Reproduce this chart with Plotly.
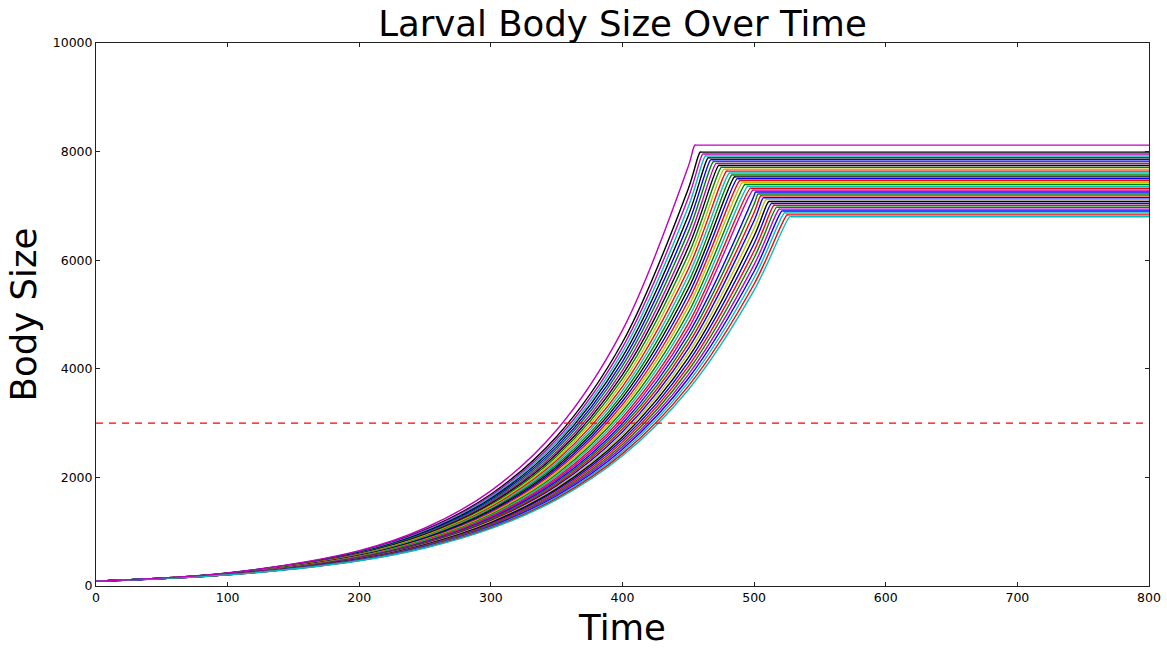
import plotly.graph_objects as go

# ---------------- data ----------------
start_size = 90          # body size of every larva at time 0
end_time = 800           # last time step shown
threshold = 3000         # red dashed reference level

# time at which each larva stops growing, and its final (plateau) body size
peak_times = [455, 459, 461, 463, 465, 467, 469, 471, 473, 475, 477, 479,
              481, 483, 485, 487, 489, 491, 493, 495, 497, 499, 501, 503,
              505, 507, 509, 511, 513, 515, 517, 519, 521, 523, 525, 527]
plateau_sizes = [8120, 7990, 7955, 7920, 7885, 7850, 7815, 7780, 7745, 7710,
                 7675, 7640, 7605, 7570, 7535, 7500, 7465, 7430, 7395, 7360,
                 7325, 7290, 7255, 7220, 7185, 7150, 7115, 7080, 7045, 7010,
                 6975, 6940, 6905, 6870, 6835, 6800]

# body size of each larva at sampled times (None = already on its plateau)
size_at_100 = [242, 239, 238, 237, 236, 234, 233, 232, 231, 230, 229, 228,
               226, 225, 224, 223, 222, 221, 220, 219, 218, 217, 216, 215,
               214, 213, 212, 211, 211, 210, 209, 208, 207, 206, 205, 204]
size_at_200 = [651, 636, 629, 623, 616, 610, 604, 598, 592, 586, 581, 575,
               569, 564, 559, 553, 548, 543, 538, 533, 529, 524, 519, 515,
               510, 506, 501, 497, 493, 488, 484, 480, 476, 472, 468, 465]
size_at_250 = [1068, 1036, 1023, 1010, 997, 984, 972, 960, 948, 937, 925, 914,
               903, 892, 882, 872, 861, 851, 842, 832, 823, 814, 805, 796,
               787, 778, 770, 762, 754, 745, 738, 730, 722, 715, 708, 700]
size_at_300 = [1752, 1689, 1663, 1638, 1612, 1588, 1564, 1541, 1518, 1496,
               1474, 1453, 1432, 1412, 1392, 1372, 1353, 1335, 1316, 1298,
               1281, 1264, 1247, 1230, 1214, 1198, 1183, 1168, 1153, 1138,
               1123, 1109, 1095, 1082, 1069, 1056]
size_at_350 = [2873, 2754, 2704, 2656, 2608, 2562, 2518, 2474, 2432, 2390,
               2350, 2310, 2272, 2234, 2197, 2161, 2126, 2092, 2059, 2026,
               1994, 1963, 1932, 1902, 1873, 1845, 1817, 1790, 1763, 1736,
               1711, 1686, 1661, 1638, 1614, 1591]
size_at_400 = [4712, 4489, 4396, 4307, 4219, 4134, 4053, 3972, 3894, 3818,
               3744, 3673, 3603, 3535, 3468, 3403, 3340, 3279, 3219, 3161,
               3104, 3049, 2994, 2942, 2890, 2840, 2791, 2743, 2696, 2650,
               2606, 2562, 2520, 2478, 2438, 2398]
size_at_450 = [7728, 7318, 7148, 6985, 6825, 6671, 6522, 6377, 6237, 6100,
               5967, 5839, 5714, 5592, 5474, 5359, 5248, 5139, 5034, 4932,
               4831, 4735, 4641, 4548, 4459, 4373, 4287, 4205, 4124, 4045,
               3969, 3894, 3821, 3751, 3682, 3615]
size_at_500 = [None] * 22 + [7192, 7033, 6880, 6732, 6586, 6446, 6308, 6174,
                             6045, 5919, 5796, 5677, 5562, 5449]

sample_times = [100, 200, 250, 300, 350, 400, 450, 500]
sample_sizes = [size_at_100, size_at_200, size_at_250, size_at_300,
                size_at_350, size_at_400, size_at_450, size_at_500]

# matplotlib "classic" colour cycle letters, one per larva
larva_colors = ['m', 'k', 'm', 'c', 'k', 'b', 'g', 'm', 'k', 'g',
                'y', 'r', 'c', 'g', 'k', 'b', 'r', 'y', 'g', 'c',
                'r', 'm', 'b', 'g', 'r', 'b', 'y', 'k', 'b', 'r',
                'g', 'm', 'b', 'c', 'r', 'c']

x_ticks = [0, 100, 200, 300, 400, 500, 600, 700, 800]
y_ticks = [0, 2000, 4000, 6000, 8000, 10000]

# ---------------- styles ----------------
palette = {'b': '#0000ff', 'g': '#008000', 'r': '#ff0000', 'c': '#00bfbf',
           'm': '#bf00bf', 'y': '#bfbf00', 'k': '#000000'}
FONT = 'DejaVu Sans, Liberation Sans, sans-serif'

fig = go.Figure()

# draw in an interleaved order so overlaps look mixed, like the original
order = list(range(1, len(peak_times))) + [0]
for i in order:
    xs = [0]
    ys = [start_size]
    for t, col in zip(sample_times, sample_sizes):
        v = col[i]
        if v is not None and t < peak_times[i]:
            xs.append(t)
            ys.append(v)
    xs += [peak_times[i], peak_times[i] + 1, end_time]
    ys += [plateau_sizes[i]] * 3
    fig.add_trace(go.Scatter(
        x=xs, y=ys, mode='lines',
        line=dict(color=palette[larva_colors[i]], width=1.4,
                  shape='spline', smoothing=1),
        hoverinfo='skip', showlegend=False))

fig.add_trace(go.Scatter(
    x=[0, end_time], y=[threshold, threshold], mode='lines',
    line=dict(color='#ff0000', width=1.3, dash='7px,6px'),
    hoverinfo='skip', showlegend=False))

fig.update_layout(
    width=1167, height=648,
    margin=dict(l=96, r=18, t=43, b=62, autoexpand=False),
    paper_bgcolor='white', plot_bgcolor='white',
    font=dict(family=FONT, color='black'),
    title=dict(text='Larval Body Size Over Time',
               font=dict(family=FONT, size=35.5, color='black'),
               x=0.5334, xanchor='center',
               y=0.963, yanchor='middle', yref='container'),
    xaxis=dict(range=[0, 800], tickvals=x_ticks,
               ticktext=[str(v) for v in x_ticks],
               ticks='inside', ticklen=4, tickwidth=1, tickcolor='#222',
               showline=True, linecolor='#222', linewidth=1, mirror='ticks',
               showgrid=False, zeroline=False,
               tickfont=dict(size=12.5, color='black'),
               title=dict(text='Time', font=dict(size=35.5, color='black'),
                          standoff=11),
               automargin=False),
    yaxis=dict(range=[0, 10000], tickvals=y_ticks,
               ticktext=[str(v) for v in y_ticks],
               ticks='inside', ticklen=4, tickwidth=1, tickcolor='#222',
               showline=True, linecolor='#222', linewidth=1, mirror='ticks',
               showgrid=False, zeroline=False,
               tickfont=dict(size=12.5, color='black'),
               title=dict(text='Body Size', font=dict(size=35.5, color='black'),
                          standoff=5),
               automargin=False),
)

fig.write_html('out.html')
